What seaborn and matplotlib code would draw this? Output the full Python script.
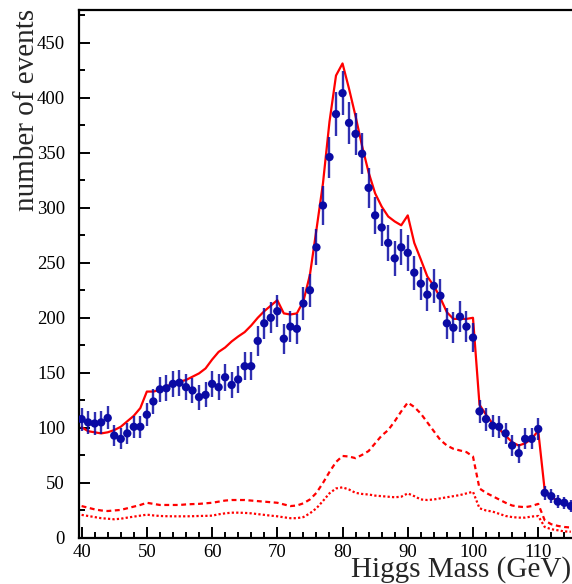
import numpy as np
import pandas as pd
import matplotlib
matplotlib.use("Agg")
import matplotlib.pyplot as plt
from matplotlib.ticker import MultipleLocator
import seaborn as sns

# Bin centres (GeV) and observed event counts
mass = np.arange(40, 116)
events = [108, 105, 104, 105, 109, 93, 90, 95, 101, 101,
          112, 124, 135, 136, 140, 141, 137, 134, 128, 130,
          140, 137, 146, 139, 144, 156, 156, 179, 195, 200,
          206, 181, 192, 190, 213, 225, 264, 302, 346, 385,
          404, 377, 367, 349, 318, 293, 282, 268, 254, 264,
          259, 241, 231, 221, 229, 220, 195, 191, 201, 192,
          182, 115, 108, 102, 101, 95, 84, 77, 90, 90,
          99, 41, 38, 33, 32, 29]

# Expected total (solid), and two component curves (dashed, dotted)
total = [100.6, 97, 96, 95, 96, 98, 101, 106, 111, 118,
         133, 133, 134.5, 137.5, 140.5, 142, 143.5, 146.5, 149.5, 154,
         162, 169, 173, 178.5, 183, 187, 193, 200, 206, 211,
         216, 204, 203, 204, 215, 239, 280, 322, 378, 420,
         431, 408, 383, 356, 332, 313, 301, 292, 287.5, 284,
         293, 268, 253, 237.5, 229, 218, 205, 199, 199, 199,
         200, 121, 112, 104, 99, 93, 87, 84, 86, 90,
         97.5, 43, 38, 33, 31, 29]
dashed = [29, 27.5, 26, 25, 24.5, 25, 25.5, 27, 28.5, 30,
          32, 31, 30, 30, 30, 30, 30.5, 30.8, 31, 31.5,
          32, 33, 34, 34.5, 34.5, 34.5, 34, 33.5, 33, 32.5,
          32, 30.5, 29, 29.5, 31.5, 35, 41, 50, 60, 69,
          74.5, 74, 72.5, 75.5, 79, 86, 93, 98, 106, 115,
          123, 119, 113, 105, 97, 89, 84, 81, 79.5, 78,
          74, 45, 41, 38, 35, 32, 29.5, 28.5, 28, 29,
          31, 16, 12.5, 11, 10, 9.5]
dotted = [21, 20, 19, 18, 17.5, 17, 17.5, 18.5, 19.4, 20.3,
          21.2, 20.5, 20, 19.8, 19.7, 19.7, 19.7, 19.8, 20, 20.1,
          20.3, 21.5, 22.4, 23, 23, 22.8, 22.4, 21.7, 21, 20.3,
          19.7, 18.8, 18, 18, 19, 22.4, 27, 33.6, 40.6, 45,
          46, 44, 41, 40, 39.5, 38.5, 38, 37.5, 37, 37.5,
          40.5, 38, 35, 34.5, 35, 36, 37, 38, 39, 40.5,
          42, 27, 25, 24, 22, 20, 19, 18.5, 18.5, 19.5,
          20, 10, 8, 7, 6, 5.7]

df = pd.DataFrame({"mass": mass, "events": events, "total": total,
                   "dashed": dashed, "dotted": dotted})

sns.set_theme(style="ticks")
plt.rcParams["font.family"] = ["Liberation Serif", "DejaVu Serif"]

fig = plt.figure(figsize=(5.72, 5.84), dpi=100)
ax = fig.add_axes([79 / 572, 46 / 584, 493 / 572, 528.5 / 584])

red = "#ff0000"
blue = "#0a0aa4"

sns.lineplot(data=df, x="mass", y="dotted", ax=ax, color=red, lw=1.6,
             linestyle=(0, (1, 1)), zorder=2)
sns.lineplot(data=df, x="mass", y="dashed", ax=ax, color=red, lw=1.6,
             linestyle=(0, (2.2, 1.6)), zorder=2)
sns.lineplot(data=df, x="mass", y="total", ax=ax, color=red, lw=1.6, zorder=3)

ax.errorbar(df["mass"], df["events"], yerr=np.sqrt(df["events"]), fmt="none",
            ecolor=blue, elinewidth=1.7, alpha=0.85, zorder=4)
sns.scatterplot(data=df, x="mass", y="events", ax=ax, color=blue, s=36,
                edgecolor="none", zorder=5)

ax.set_xlim(39.6, 115.18)
ax.set_ylim(0, 480)
ax.xaxis.set_major_locator(MultipleLocator(10))
ax.xaxis.set_minor_locator(MultipleLocator(2))
ax.yaxis.set_major_locator(MultipleLocator(50))
ax.yaxis.set_minor_locator(MultipleLocator(25))
ax.tick_params(which="both", direction="in", top=False, right=False,
               width=1.4, colors="black", labelsize=13.5)
ax.tick_params(which="major", length=8)
ax.tick_params(which="minor", length=4.5)
ax.tick_params(axis="y", pad=10)
ax.tick_params(axis="x", pad=4)

for side in ("left", "bottom", "top"):
    ax.spines[side].set_linewidth(1.6)
    ax.spines[side].set_color("black")
ax.spines["right"].set_visible(False)

ax.set_xlabel("")
ax.set_ylabel("")
fig.text(571 / 572, 7 / 584, "Higgs Mass (GeV)", ha="right", va="baseline",
         fontsize=21)
fig.text(27 / 572, 1 - 9 / 584, "number of events", ha="center", va="top",
         rotation=90, fontsize=21)

fig.savefig("out.png", dpi=100)
